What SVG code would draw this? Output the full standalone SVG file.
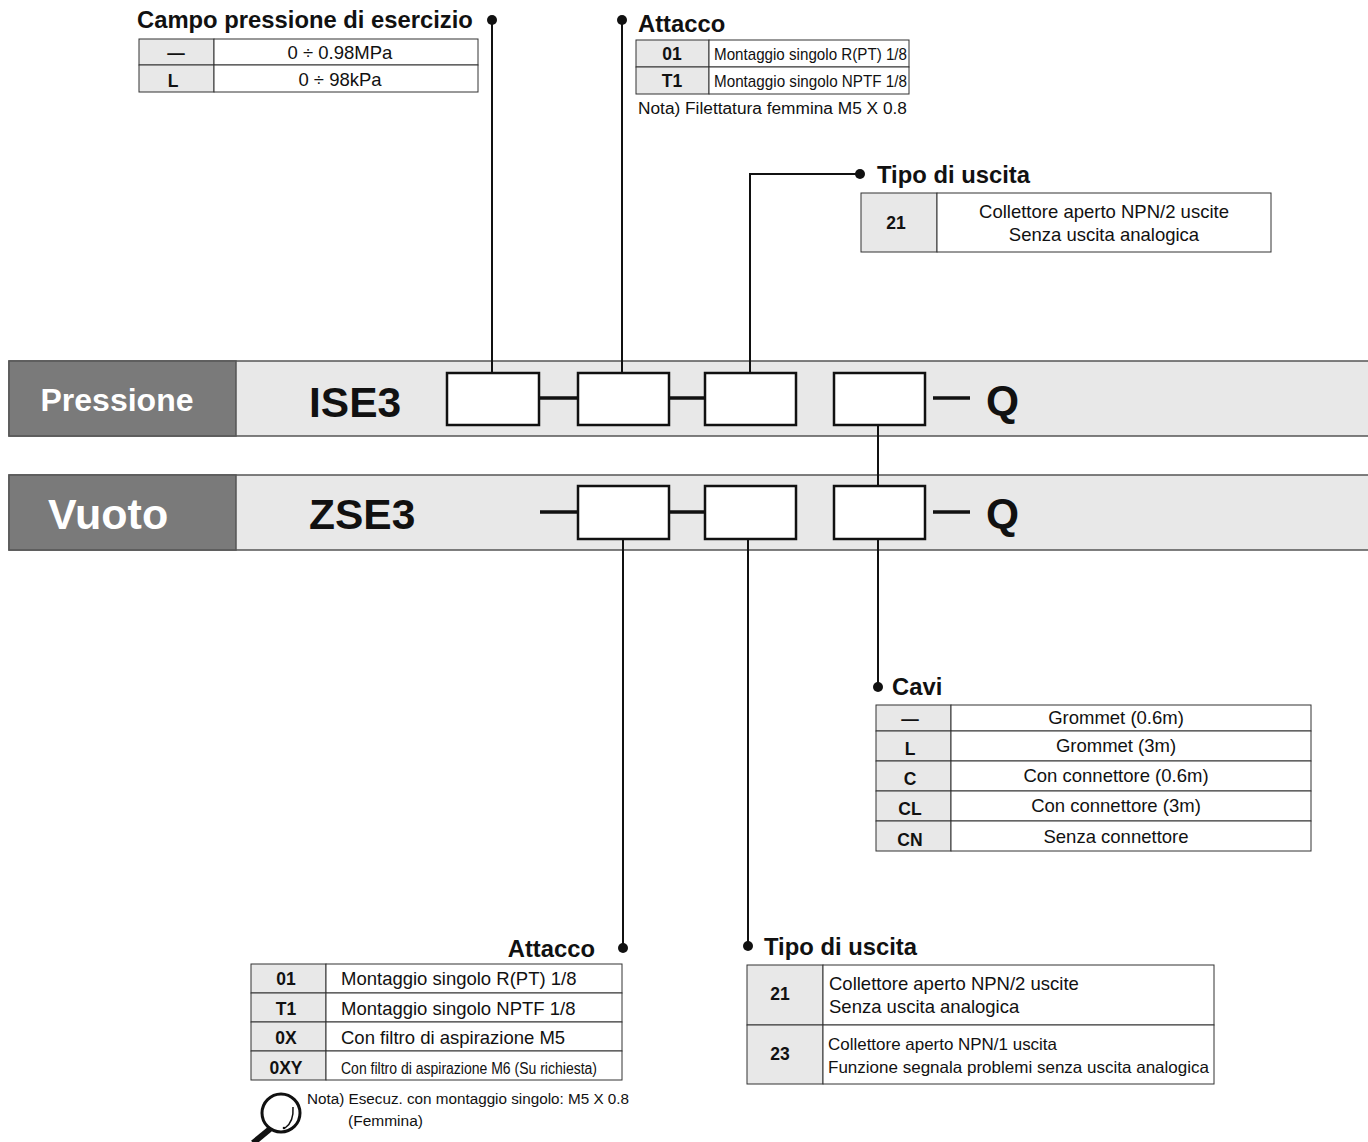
<svg xmlns="http://www.w3.org/2000/svg" width="1368" height="1142" viewBox="0 0 1368 1142">
<style>
text{font-family:"Liberation Sans",Arial,sans-serif;fill:#111}
.ttl{font-size:23.8px;font-weight:bold}
.k{font-size:17.5px;font-weight:bold;text-anchor:middle}
.v{font-size:18.5px}
.vc{font-size:18.5px;text-anchor:middle}
.cell{fill:#fff;stroke:#333;stroke-width:1}
.key{fill:#e8e8e8;stroke:#333;stroke-width:1}
.bar{fill:#e8e8e8;stroke:#555;stroke-width:1.5}
.dark{fill:#7a7a7a;stroke:#555;stroke-width:1.5}
.box{fill:#fff;stroke:#111;stroke-width:2.5}
.big{font-size:42.5px;font-weight:bold}
.conn line,.conn path{stroke:#111;fill:none}
.dot{fill:#111}
</style>

<g id="bar-pressione">
<rect class="bar" x="9" y="361" width="1370" height="75"/>
<rect class="dark" x="9" y="361" width="227" height="75"/>
<text x="117" y="411" text-anchor="middle" style="fill:#fff;font-size:32px;font-weight:bold">Pressione</text>
<text class="big" x="309" y="417">ISE3</text>
<text class="big" x="986" y="415">Q</text>
</g>
<g id="bar-vuoto">
<rect class="bar" x="9" y="475" width="1370" height="75"/>
<rect class="dark" x="9" y="475" width="227" height="75"/>
<text x="48" y="529" style="fill:#fff;font-size:43px;font-weight:bold">Vuoto</text>
<text class="big" x="309" y="529">ZSE3</text>
<text class="big" x="986" y="528">Q</text>
</g>

<g id="boxes">
<rect class="box" x="447" y="373" width="92" height="52"/>
<rect class="box" x="578" y="373" width="91" height="52"/>
<rect class="box" x="705" y="373" width="91" height="52"/>
<rect class="box" x="834" y="373" width="91" height="52"/>
<rect class="box" x="578" y="486" width="91" height="53"/>
<rect class="box" x="705" y="486" width="91" height="53"/>
<rect class="box" x="834" y="486" width="91" height="53"/>
</g>

<g id="connectors" class="conn">
<line x1="539" y1="398" x2="578" y2="398" stroke-width="3.5"/>
<line x1="669" y1="398" x2="705" y2="398" stroke-width="3.5"/>
<line x1="933" y1="398" x2="970" y2="398" stroke-width="3.5"/>
<line x1="540" y1="512" x2="578" y2="512" stroke-width="3.5"/>
<line x1="669" y1="512" x2="705" y2="512" stroke-width="3.5"/>
<line x1="933" y1="512" x2="970" y2="512" stroke-width="3.5"/>
<line x1="492" y1="20" x2="492" y2="373" stroke-width="2"/>
<line x1="622" y1="20" x2="622" y2="373" stroke-width="2"/>
<path d="M860 174 H750 V373" stroke-width="2"/>
<line x1="878" y1="425" x2="878" y2="486" stroke-width="2"/>
<line x1="878" y1="539" x2="878" y2="687" stroke-width="2"/>
<line x1="623" y1="539" x2="623" y2="948" stroke-width="2"/>
<line x1="748" y1="539" x2="748" y2="946" stroke-width="2"/>
<circle class="dot" cx="492" cy="20" r="5"/>
<circle class="dot" cx="622" cy="20" r="5"/>
<circle class="dot" cx="860" cy="174" r="5"/>
<circle class="dot" cx="878" cy="687" r="5"/>
<circle class="dot" cx="623" cy="948" r="5"/>
<circle class="dot" cx="748" cy="946" r="5"/>
</g>

<g id="campo-pressione">
<text class="ttl" x="137" y="28">Campo pressione di esercizio</text>
<rect class="key" x="139" y="39" width="75" height="26"/>
<rect class="cell" x="214" y="39" width="264" height="26"/>
<rect class="key" x="139" y="65" width="75" height="27"/>
<rect class="cell" x="214" y="65" width="264" height="27"/>
<text class="k" x="176" y="59">—</text>
<text class="vc" x="340" y="59">0 ÷ 0.98MPa</text>
<text class="k" x="173" y="87">L</text>
<text class="vc" x="340" y="86">0 ÷ 98kPa</text>
</g>

<g id="attacco-top">
<text class="ttl" x="638" y="32">Attacco</text>
<rect class="key" x="636" y="40" width="73" height="27"/>
<rect class="cell" x="709" y="40" width="200" height="27"/>
<rect class="key" x="636" y="67" width="73" height="27"/>
<rect class="cell" x="709" y="67" width="200" height="27"/>
<text class="k" x="672" y="60">01</text>
<text x="714" y="60" style="font-size:17px" textLength="193" lengthAdjust="spacingAndGlyphs">Montaggio singolo R(PT) 1/8</text>
<text class="k" x="672" y="87">T1</text>
<text x="714" y="87" style="font-size:17px" textLength="193" lengthAdjust="spacingAndGlyphs">Montaggio singolo NPTF 1/8</text>
<text x="638" y="114" style="font-size:17.3px">Nota) Filettatura femmina M5 X 0.8</text>
</g>

<g id="tipo-uscita-top">
<text class="ttl" x="877" y="183">Tipo di uscita</text>
<rect class="key" x="861" y="193" width="76" height="59"/>
<rect class="cell" x="937" y="193" width="334" height="59"/>
<text class="k" x="896" y="229">21</text>
<text class="vc" x="1104" y="218">Collettore aperto NPN/2 uscite</text>
<text class="vc" x="1104" y="241">Senza uscita analogica</text>
</g>

<g id="cavi">
<text class="ttl" x="892" y="695">Cavi</text>
<rect class="key" x="876" y="705" width="75" height="26"/>
<rect class="cell" x="951" y="705" width="360" height="26"/>
<rect class="key" x="876" y="731" width="75" height="30"/>
<rect class="cell" x="951" y="731" width="360" height="30"/>
<rect class="key" x="876" y="761" width="75" height="30"/>
<rect class="cell" x="951" y="761" width="360" height="30"/>
<rect class="key" x="876" y="791" width="75" height="30"/>
<rect class="cell" x="951" y="791" width="360" height="30"/>
<rect class="key" x="876" y="821" width="75" height="30"/>
<rect class="cell" x="951" y="821" width="360" height="30"/>
<text class="k" x="910" y="725">—</text>
<text class="vc" x="1116" y="724">Grommet (0.6m)</text>
<text class="k" x="910" y="755">L</text>
<text class="vc" x="1116" y="752">Grommet (3m)</text>
<text class="k" x="910" y="785">C</text>
<text class="vc" x="1116" y="782">Con connettore (0.6m)</text>
<text class="k" x="910" y="815">CL</text>
<text class="vc" x="1116" y="812">Con connettore (3m)</text>
<text class="k" x="910" y="846">CN</text>
<text class="vc" x="1116" y="843">Senza connettore</text>
</g>

<g id="attacco-bottom">
<text class="ttl" x="595" y="957" text-anchor="end">Attacco</text>
<rect class="key" x="251" y="964" width="75" height="29"/>
<rect class="cell" x="326" y="964" width="296" height="29"/>
<rect class="key" x="251" y="993" width="75" height="29"/>
<rect class="cell" x="326" y="993" width="296" height="29"/>
<rect class="key" x="251" y="1022" width="75" height="29"/>
<rect class="cell" x="326" y="1022" width="296" height="29"/>
<rect class="key" x="251" y="1051" width="75" height="29"/>
<rect class="cell" x="326" y="1051" width="296" height="29"/>
<text class="k" x="286" y="985">01</text>
<text class="v" x="341" y="985">Montaggio singolo R(PT) 1/8</text>
<text class="k" x="286" y="1015">T1</text>
<text class="v" x="341" y="1015">Montaggio singolo NPTF 1/8</text>
<text class="k" x="286" y="1044">0X</text>
<text class="v" x="341" y="1044">Con filtro di aspirazione M5</text>
<text class="k" x="286" y="1074">0XY</text>
<text x="341" y="1074" style="font-size:16px" textLength="256" lengthAdjust="spacingAndGlyphs">Con filtro di aspirazione M6 (Su richiesta)</text>
<circle cx="281" cy="1113" r="19" fill="none" stroke="#111" stroke-width="3"/>
<path d="M293 1107 Q294 1122 285 1128" fill="none" stroke="#111" stroke-width="1.5"/>
<circle cx="284" cy="1128" r="1.3" fill="#111"/>
<line x1="270" y1="1129" x2="253" y2="1143" stroke="#111" stroke-width="6"/>
<text x="307" y="1104" style="font-size:15.5px" textLength="322" lengthAdjust="spacingAndGlyphs">Nota) Esecuz. con montaggio singolo: M5 X 0.8</text>
<text x="348" y="1126" style="font-size:15.5px">(Femmina)</text>
</g>

<g id="tipo-uscita-bottom">
<text class="ttl" x="764" y="955">Tipo di uscita</text>
<rect class="key" x="747" y="965" width="76" height="60"/>
<rect class="cell" x="823" y="965" width="391" height="60"/>
<rect class="key" x="747" y="1025" width="76" height="59"/>
<rect class="cell" x="823" y="1025" width="391" height="59"/>
<text class="k" x="780" y="1000">21</text>
<text class="v" x="829" y="990">Collettore aperto NPN/2 uscite</text>
<text class="v" x="829" y="1013">Senza uscita analogica</text>
<text class="k" x="780" y="1060">23</text>
<text x="828" y="1050" style="font-size:16.5px" textLength="229" lengthAdjust="spacingAndGlyphs">Collettore aperto NPN/1 uscita</text>
<text x="828" y="1073" style="font-size:16.5px" textLength="381" lengthAdjust="spacingAndGlyphs">Funzione segnala problemi senza uscita analogica</text>
</g>
</svg>
